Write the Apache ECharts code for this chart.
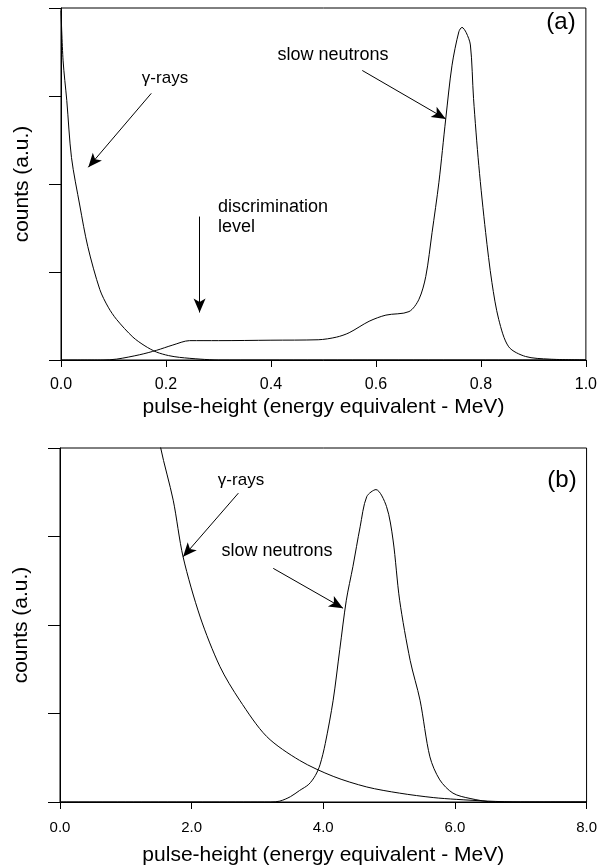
<!DOCTYPE html>
<html><head><meta charset="utf-8">
<script src="https://cdn.jsdelivr.net/npm/echarts@6/dist/echarts.min.js"></script>
<style>html,body{margin:0;padding:0;background:#fff}#c{width:600px;height:867px}</style>
</head><body><div id="c"></div>
<script>
// Panel (a): pulse-height (MeV) vs counts (a.u.)
var gammaA = [[0,3.97],[0.004,3.4],[0.011,2.95],[0.02,2.3],[0.036,1.75],[0.051,1.29],[0.074,0.80],[0.09,0.6],[0.106,0.46],[0.137,0.26],[0.16,0.16],[0.182,0.09],[0.205,0.05],[0.226,0.03],[0.265,0.01],[0.3,0.0],[1.0,0.0]];
var neutronA = [[0,0],[0.08,0],[0.106,0.01],[0.15,0.06],[0.182,0.11],[0.213,0.17],[0.245,0.22],[0.3,0.22],[0.4,0.225],[0.49,0.23],[0.525,0.26],[0.549,0.31],[0.587,0.44],[0.619,0.51],[0.663,0.55],[0.682,0.69],[0.695,0.95],[0.707,1.45],[0.72,2.02],[0.733,2.74],[0.745,3.35],[0.758,3.73],[0.764,3.78],[0.772,3.72],[0.78,3.58],[0.786,2.97],[0.796,2.21],[0.809,1.45],[0.821,0.88],[0.834,0.46],[0.853,0.15],[0.885,0.04],[0.93,0.01],[1.0,0]];
// Panel (b)
var gammaB = [[1.45,4.4],[1.53,4.0],[1.72,3.41],[1.87,2.77],[2.13,2.09],[2.43,1.53],[2.73,1.15],[3.14,0.74],[3.64,0.47],[4.15,0.29],[4.66,0.17],[5.16,0.10],[5.67,0.05],[6.02,0.03],[6.5,0.01],[7.0,0],[8.0,0]];
var neutronB = [[0,0],[3.2,0],[3.34,0.01],[3.5,0.06],[3.64,0.13],[3.78,0.2],[3.88,0.3],[3.95,0.42],[4.03,0.66],[4.15,1.15],[4.25,1.72],[4.35,2.28],[4.45,2.66],[4.56,3.11],[4.66,3.45],[4.80,3.53],[4.96,3.34],[5.06,2.96],[5.16,2.28],[5.32,1.6],[5.47,1.15],[5.62,0.51],[5.77,0.25],[5.97,0.10],[6.23,0.04],[6.6,0],[8.0,0]];
var xTitle = 'pulse-height (energy equivalent - MeV)';
var yTitle = 'counts (a.u.)';
// annotation arrows [from, to] in data coordinates
var arrowsA = [[[0.172,3.03],[0.052,2.19]],[[0.264,1.63],[0.264,0.54]],[[0.574,3.29],[0.733,2.74]]];
var arrowsB = [[[2.71,3.49],[1.87,2.77]],[[3.24,2.64],[4.30,2.19]]];

var FONT = '"Liberation Sans", Arial, sans-serif';
function xAxis(idx, max, interval, labelSize, margin, gap) {
  return {type:'value', gridIndex:idx, min:0, max:max, interval:interval,
    name:xTitle, nameLocation:'middle', nameGap:gap,
    nameTextStyle:{fontFamily:FONT, fontSize:21, color:'#000'},
    axisLine:{lineStyle:{color:'#000', width:1}},
    axisTick:{show:true, inside:false, length:7, lineStyle:{color:'#000'}},
    axisLabel:{fontFamily:FONT, fontSize:labelSize, color:'#000', margin:margin, formatter:function(v){return v.toFixed(1);}},
    splitLine:{show:false}};
}
function yAxis(idx) {
  return {type:'value', gridIndex:idx, min:0, max:4, interval:1,
    name:yTitle, nameLocation:'middle', nameGap:28,
    nameTextStyle:{fontFamily:FONT, fontSize:21, color:'#000'},
    axisLine:{lineStyle:{color:'#000', width:1}},
    axisTick:{show:true, inside:false, length:12, lineStyle:{color:'#000'}},
    axisLabel:{show:false}, splitLine:{show:false}};
}
function arrowMark(list) {
  return {silent:true, symbol:['none','arrow'], symbolSize:[9,14], label:{show:false},
    lineStyle:{color:'#000', width:1, type:'solid'},
    data:list.map(function(a){return [{coord:a[0]},{coord:a[1]}];})};
}
function line(data, xi, yi, mark) {
  var s = {type:'line', xAxisIndex:xi, yAxisIndex:yi, data:data, smooth:0.3, showSymbol:false, symbol:'none',
    lineStyle:{color:'#000', width:1}, clip:true, animation:false};
  if (mark) s.markLine = mark;
  return s;
}
function txt(x, y, t, size, align) {
  return {type:'text', x:x, y:y, style:{text:t, font:size+'px '+FONT, fill:'#000', align:align||'center', verticalAlign:'middle'}};
}
var chart = echarts.init(document.getElementById('c'), null, {renderer:'canvas'});
chart.setOption({
  backgroundColor:'#fff', animation:false,
  grid:[
    {left:61, right:13, top:8, height:352, show:true, borderColor:'#000', borderWidth:1},
    {left:60, right:13, top:448, height:354, show:true, borderColor:'#000', borderWidth:1}
  ],
  xAxis:[xAxis(0,1,0.2,16,17,37), xAxis(1,8,2,15,18,43)],
  yAxis:[yAxis(0), yAxis(1)],
  series:[
    line(gammaA,0,0,arrowMark(arrowsA)), line(neutronA,0,0),
    line(gammaB,1,1,arrowMark(arrowsB)), line(neutronB,1,1)
  ],
  graphic:[
    txt(165, 78, 'γ-rays', 17),
    txt(218, 207, 'discrimination', 18, 'left'),
    txt(218, 227, 'level', 18, 'left'),
    txt(333, 55, 'slow neutrons', 18),
    txt(561, 22, '(a)', 24),
    txt(241, 480, 'γ-rays', 17),
    txt(277, 551, 'slow neutrons', 18),
    txt(562, 480, '(b)', 24)
  ]
});
</script></body></html>
